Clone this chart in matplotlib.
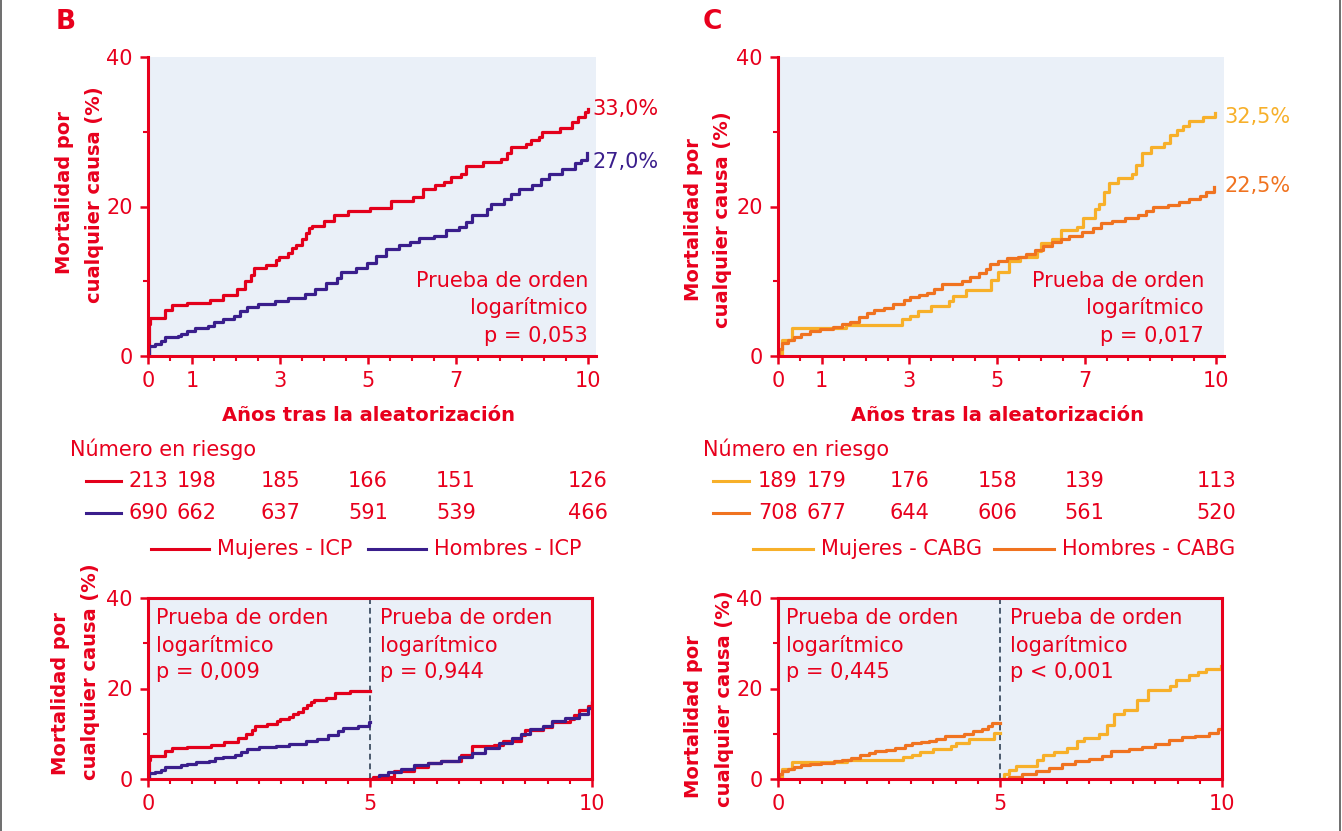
import numpy as np
import matplotlib
matplotlib.use("Agg")
import matplotlib.pyplot as plt
from matplotlib.lines import Line2D
from matplotlib.ticker import MultipleLocator, FixedLocator
import matplotlib.transforms as mtransforms

plt.rcParams['font.family'] = ['DejaVu Sans']

# colours
RED = '#E8001D'
C_ICP_F = '#E3001B'
C_ICP_M = '#3A1E8C'
C_CABG_F = '#F7B02A'
C_CABG_M = '#F07320'
BG = '#EAF0F8'

# ---- data: top panels, 0-10 years ----
icp_f_t = [0, 0.02, 0.05, 0.39, 0.54, 0.88, 1.41, 1.71, 2.02, 2.2, 2.34, 2.41, 2.68, 2.9, 2.98,
           3.17, 3.27, 3.37, 3.5, 3.58, 3.66, 3.73, 4.0, 4.22, 4.55, 5.04, 5.53, 6.02, 6.24, 6.53,
           6.73, 6.88, 7.12, 7.22, 7.61, 8.03, 8.15, 8.24, 8.59, 8.7, 8.88, 8.95, 9.37, 9.64, 9.76,
           9.93, 10.0]
icp_f_y = [0, 4.3, 5.1, 6.2, 6.8, 7.1, 7.5, 8.1, 9.0, 10.0, 10.9, 11.8, 12.2, 12.8, 13.3,
           13.8, 14.4, 14.9, 15.7, 16.4, 17.1, 17.4, 18.0, 18.9, 19.4, 19.8, 20.8, 21.3, 22.3, 22.9,
           23.3, 23.9, 24.4, 25.4, 25.9, 26.3, 27.1, 28.0, 28.4, 28.9, 29.3, 29.9, 30.5, 31.3, 32.0,
           32.6, 33.1]

icp_m_t = [0, 0.02, 0.15, 0.29, 0.39, 0.68, 0.75, 0.88, 1.07, 1.37, 1.5, 1.7, 1.95, 2.1, 2.24,
           2.49, 2.88, 3.17, 3.56, 3.8, 4.05, 4.29, 4.39, 4.73, 4.98, 5.17, 5.41, 5.7, 5.95, 6.15,
           6.49, 6.78, 7.07, 7.22, 7.37, 7.71, 7.8, 8.1, 8.24, 8.44, 8.73, 8.93, 9.12, 9.41, 9.7,
           9.85, 9.98]
icp_m_y = [0, 1.3, 1.6, 2.0, 2.6, 2.7, 3.0, 3.3, 3.8, 4.0, 4.6, 4.9, 5.3, 6.0, 6.6,
           7.0, 7.3, 7.8, 8.3, 8.9, 9.8, 10.5, 11.3, 11.8, 12.5, 13.4, 14.3, 14.8, 15.3, 15.8,
           16.1, 16.8, 17.3, 17.9, 18.9, 19.6, 20.3, 21.0, 21.7, 22.3, 22.9, 23.7, 24.3, 25.0, 25.8,
           26.2, 27.1]

cabg_f_t = [0, 0.08, 0.32, 1.55, 2.82, 3.02, 3.2, 3.5, 3.9, 4.0, 4.3, 4.86, 5.03, 5.27, 5.52,
            5.91, 6.0, 6.25, 6.45, 6.82, 6.96, 7.24, 7.33, 7.43, 7.55, 7.77, 8.07, 8.17, 8.31,
            8.51, 8.8, 8.95, 9.1, 9.25, 9.39, 9.69, 9.98]
cabg_f_y = [0, 2.2, 3.8, 4.2, 4.9, 5.4, 6.0, 6.7, 7.3, 8.0, 8.8, 10.2, 11.3, 12.7, 13.3,
            14.0, 15.1, 15.6, 16.8, 17.3, 18.4, 19.6, 20.4, 21.9, 23.2, 23.8, 24.4, 25.6, 27.2,
            28.0, 28.5, 29.6, 30.2, 30.8, 31.5, 32.0, 32.5]

cabg_m_t = [0, 0.03, 0.1, 0.23, 0.37, 0.52, 0.72, 0.96, 1.25, 1.45, 1.65, 1.84, 2.04, 2.18, 2.43,
            2.63, 2.87, 3.02, 3.22, 3.41, 3.56, 3.75, 4.2, 4.39, 4.59, 4.74, 4.83, 5.03, 5.23,
            5.47, 5.67, 5.86, 6.06, 6.25, 6.45, 6.65, 6.94, 7.19, 7.38, 7.63, 7.92, 8.22, 8.41,
            8.56, 8.9, 9.15, 9.39, 9.64, 9.78, 9.96]
cabg_m_y = [0, 1.0, 1.8, 2.2, 2.6, 3.0, 3.3, 3.6, 3.9, 4.3, 4.6, 5.2, 5.8, 6.1, 6.4,
            6.9, 7.5, 7.9, 8.1, 8.4, 8.9, 9.6, 10.0, 10.6, 11.1, 11.7, 12.3, 12.7, 13.1,
            13.3, 13.6, 14.2, 14.7, 15.2, 15.6, 16.1, 16.6, 17.1, 17.8, 18.1, 18.4, 18.8, 19.4,
            19.9, 20.2, 20.6, 21.0, 21.4, 22.0, 22.6]

# ---- data: landmark analysis after year 5 ----
icp_f5_t = [5, 5.06, 5.55, 6.0, 6.3, 6.6, 7.05, 7.3, 7.8, 8.0, 8.4, 8.5, 8.9, 9.1, 9.5, 9.6, 9.7, 9.9, 10.0]
icp_f5_y = [0, 0.5, 1.8, 2.7, 3.5, 4.0, 5.4, 7.3, 7.6, 8.5, 9.8, 10.8, 11.5, 12.5, 13.3, 14.2, 15.2, 16.2, 17.0]

icp_m5_t = [5, 5.2, 5.4, 5.7, 6.0, 6.3, 6.6, 7.0, 7.3, 7.6, 7.9, 8.2, 8.4, 8.6, 8.9, 9.1, 9.4, 9.7, 9.9, 10.0]
icp_m5_y = [0, 0.8, 1.6, 2.2, 3.0, 3.5, 3.9, 4.8, 5.8, 6.8, 8.0, 9.0, 10.0, 11.0, 11.8, 12.8, 13.5, 14.3, 15.6, 16.8]

cabg_f5_t = [5, 5.1, 5.2, 5.35, 5.83, 5.97, 6.21, 6.5, 6.74, 6.89, 7.23, 7.42, 7.56, 7.8, 8.09,
             8.33, 8.82, 8.97, 9.26, 9.45, 9.65, 9.98]
cabg_f5_y = [0, 1.0, 2.0, 2.8, 4.2, 5.3, 6.0, 6.8, 8.3, 9.1, 10.0, 12.0, 14.4, 15.2, 17.4,
             19.6, 20.6, 21.8, 23.0, 23.7, 24.3, 25.0]

cabg_m5_t = [5, 5.2, 5.5, 5.8, 6.1, 6.4, 6.7, 7.0, 7.3, 7.5, 7.9, 8.2, 8.5, 8.8, 9.1, 9.4, 9.7, 9.9, 10.0]
cabg_m5_y = [0, 0.4, 1.1, 1.8, 2.5, 3.3, 3.9, 4.4, 5.0, 6.2, 6.6, 7.1, 7.7, 8.6, 9.2, 9.6, 10.2, 11.0, 11.7]

# ---- number at risk ----
risk_times = [0, 1.1, 3, 5, 7, 10]
risk_icp_f = [213, 198, 185, 166, 151, 126]
risk_icp_m = [690, 662, 637, 591, 539, 466]
risk_cabg_f = [189, 179, 176, 158, 139, 113]
risk_cabg_m = [708, 677, 644, 606, 561, 520]

end_labels_b = ['33,0%', '27,0%']
end_labels_c = ['32,5%', '22,5%']
pvals_top = ['p = 0,053', 'p = 0,017']
pvals_bottom_b = ['p = 0,009', 'p = 0,944']
pvals_bottom_c = ['p = 0,445', 'p < 0,001']

W, H = 1342, 831
fig = plt.figure(figsize=(W / 100, H / 100), dpi=100)


def px(x, y):
    return x / W, 1 - y / H


def rect(l, t, r, b):
    return [l / W, 1 - b / H, (r - l) / W, (b - t) / H]


FS = 15      # regular text
FSB = 14     # bold axis titles


def style_axes(ax, top_panel):
    ax.set_facecolor(BG)
    ax.set_ylim(0, 40)
    for s in ax.spines.values():
        s.set_color(RED)
        s.set_linewidth(2.2)
    if top_panel:
        ax.set_xlim(0, 10.18)
        ax.spines['top'].set_visible(False)
        ax.spines['right'].set_visible(False)
        ax.xaxis.set_major_locator(FixedLocator([0, 1, 3, 5, 7, 10]))
    else:
        ax.set_xlim(0, 10)
        ax.xaxis.set_major_locator(FixedLocator([0, 5, 10]))
    ax.xaxis.set_minor_locator(MultipleLocator(0.5))
    ax.yaxis.set_major_locator(FixedLocator([0, 20, 40]))
    ax.yaxis.set_minor_locator(FixedLocator([10, 30]))
    ax.tick_params(which='major', length=6, width=1.8, color=RED, labelcolor=RED,
                   labelsize=FS, pad=5)
    ax.tick_params(which='minor', length=3.5, width=1.5, color=RED)


def trunc5(t, y):
    t = np.asarray(t)
    y = np.asarray(y)
    m = t <= 5
    return np.append(t[m], 5), np.append(y[m], y[m][-1])


# ---------- top panels ----------
axB = fig.add_axes(rect(148, 57, 596, 356))
axC = fig.add_axes(rect(778, 57, 1224, 356))
for ax in (axB, axC):
    style_axes(ax, True)

axB.step(icp_f_t, icp_f_y, where='post', color=C_ICP_F, lw=2.3)
axB.step(icp_m_t, icp_m_y, where='post', color=C_ICP_M, lw=2.3)
axC.step(cabg_f_t, cabg_f_y, where='post', color=C_CABG_F, lw=2.3)
axC.step(cabg_m_t, cabg_m_y, where='post', color=C_CABG_M, lw=2.3)

fig.text(*px(592, 109), end_labels_b[0], color=C_ICP_F, fontsize=FS, va='center')
fig.text(*px(592, 162), end_labels_b[1], color=C_ICP_M, fontsize=FS, va='center')
fig.text(*px(1224, 117), end_labels_c[0], color=C_CABG_F, fontsize=FS, va='center')
fig.text(*px(1224, 186), end_labels_c[1], color=C_CABG_M, fontsize=FS, va='center')

for xr, p in ((588, pvals_top[0]), (1204, pvals_top[1])):
    for yy, s in zip((281, 308, 336), ('Prueba de orden', 'logarítmico', p)):
        fig.text(*px(xr, yy), s, color=RED, fontsize=FS, ha='right', va='center')

# panel letters
fig.text(*px(56, 22), 'B', color=RED, fontsize=19, fontweight='bold', va='center')
fig.text(*px(703, 22), 'C', color=RED, fontsize=19, fontweight='bold', va='center')

# y labels
for x1, y1, x2, y2 in ((64, 193, 94, 195), (694, 220, 722, 220),
                       (61, 694, 91, 672), (694, 717, 724, 699)):
    fig.text(*px(x1, y1), 'Mortalidad por', color=RED, fontsize=FSB, fontweight='bold',
             rotation=90, ha='center', va='center')
    fig.text(*px(x2, y2), 'cualquier causa (%)', color=RED, fontsize=FSB, fontweight='bold',
             rotation=90, ha='center', va='center')

# x labels
for ax in (axB, axC):
    tr = mtransforms.blended_transform_factory(ax.transData, fig.transFigure)
    ax.text(5, 1 - 415 / H, 'Años tras la aleatorización', transform=tr, color=RED,
            fontsize=FSB, fontweight='bold', ha='center', va='center')


# ---------- number at risk tables ----------
def risk_table(ax, x_num, rows, colors, leg_x, leg_labels):
    fig.text(*px(x_num, 449), 'Número en riesgo', color=RED, fontsize=FS, va='center')
    tr = mtransforms.blended_transform_factory(ax.transData, fig.transFigure)
    for yy, vals, col in zip((481, 513), rows, colors):
        for t, v in zip(risk_times, vals):
            ax.text(t, 1 - yy / H, str(v), transform=tr, color=RED, fontsize=FS,
                    ha='center', va='center')
        fig.add_artist(Line2D([leg_x[0] / W, leg_x[1] / W], [1 - yy / H] * 2,
                              color=col, lw=2.2, transform=fig.transFigure))
    # legend
    for (l0, l1, tx), lab, col in zip(leg_x[2:], leg_labels, colors):
        fig.add_artist(Line2D([l0 / W, l1 / W], [1 - 549 / H] * 2, color=col, lw=2.2,
                              transform=fig.transFigure))
        fig.text(*px(tx, 549), lab, color=RED, fontsize=FS, va='center')


risk_table(axB, 70, (risk_icp_f, risk_icp_m), (C_ICP_F, C_ICP_M),
           [86, 121, (151, 209, 217), (368, 426, 434)],
           ['Mujeres - ICP', 'Hombres - ICP'])
risk_table(axC, 703, (risk_cabg_f, risk_cabg_m), (C_CABG_F, C_CABG_M),
           [713, 749, (753, 813, 821), (994, 1054, 1062)],
           ['Mujeres - CABG', 'Hombres - CABG'])

# ---------- bottom landmark panels ----------
axB2 = fig.add_axes(rect(148, 598, 592, 779))
axC2 = fig.add_axes(rect(778, 598, 1222, 779))
for ax in (axB2, axC2):
    style_axes(ax, False)
    ax.axvline(5, color='#4A5A6E', lw=1.4, ls=(0, (3, 2)))

for t, y, c in ((icp_f_t, icp_f_y, C_ICP_F), (icp_m_t, icp_m_y, C_ICP_M)):
    tt, yy = trunc5(t, y)
    axB2.step(tt, yy, where='post', color=c, lw=2.3)
axB2.step(icp_f5_t, icp_f5_y, where='post', color=C_ICP_F, lw=2.3)
axB2.step(icp_m5_t, icp_m5_y, where='post', color=C_ICP_M, lw=2.3)

for t, y, c in ((cabg_f_t, cabg_f_y, C_CABG_F), (cabg_m_t, cabg_m_y, C_CABG_M)):
    tt, yy = trunc5(t, y)
    axC2.step(tt, yy, where='post', color=c, lw=2.3)
axC2.step(cabg_f5_t, cabg_f5_y, where='post', color=C_CABG_F, lw=2.3)
axC2.step(cabg_m5_t, cabg_m5_y, where='post', color=C_CABG_M, lw=2.3)

for xl, p in ((156, pvals_bottom_b[0]), (380, pvals_bottom_b[1]),
              (786, pvals_bottom_c[0]), (1010, pvals_bottom_c[1])):
    for yy, s in zip((618, 645, 672), ('Prueba de orden', 'logarítmico', p)):
        fig.text(*px(xl, yy), s, color=RED, fontsize=FS, ha='left', va='center')

# frame lines at the figure edges
for xe in (1, 1340):
    fig.add_artist(Line2D([xe / W] * 2, [0, 1], color='#555555', lw=1.2,
                          transform=fig.transFigure))

fig.savefig('out.png', dpi=100)
